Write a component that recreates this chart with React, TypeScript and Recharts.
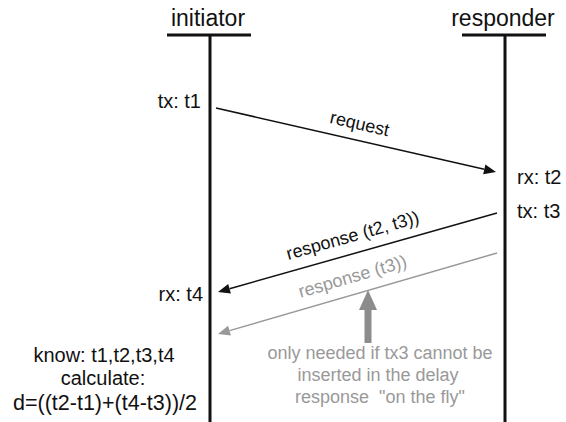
import React from 'react';
import { ComposedChart, XAxis, YAxis, Scatter, ReferenceLine } from 'recharts';

// Diagram coordinate space (x: 0..566, y: 0..422, y grows downward)
const participants = ['initiator', 'responder'];
const lifelineX = [210, 505];
const headerY = [18, 18];
const barY = 35;
const barHalf = 42;
const lifelineEnd = 422;

const messageNames = ['request', 'response (t2, t3))', 'response (t3))'];
const messageFrom = [
  { x: 216, y: 108 },
  { x: 497, y: 213 },
  { x: 497, y: 253 },
];
const messageTo = [
  { x: 496, y: 172 },
  { x: 218, y: 292 },
  { x: 218, y: 334 },
];
const messageColor = ['#111111', '#111111', '#999999'];
const messageLabelOffset = [17, 18, 18];

const stampText = ['tx: t1', 'rx: t2', 'tx: t3', 'rx: t4'];
const stampX = [201, 517, 517, 203];
const stampY = [101, 177, 211, 294];
const stampAnchor = ['end', 'start', 'start', 'end'];

const noteLines = ['know: t1,t2,t3,t4', 'calculate:', 'd=((t2-t1)+(t4-t3))/2'];
const noteX = [104, 103, 105];
const noteY = [355, 378, 402];
const noteSize = [20, 20, 21.5];

const grayLines = ['only needed if tx3 cannot be', 'inserted in the delay', 'response  "on the fly"'];
const grayX = [380, 378, 380];
const grayY = [353, 375, 397];

const pointerFrom = { x: 368, y: 343 };
const pointerTo = { x: 368, y: 290 };

const FONT = 'Liberation Sans, Arial, Helvetica, sans-serif';

const headerData = participants.map((t, i) => ({ x: lifelineX[i] - 2, y: headerY[i], text: t, size: 23, color: '#111', anchor: 'middle' }));
const stampData = stampText.map((t, i) => ({ x: stampX[i], y: stampY[i], text: t, size: 20, color: '#111', anchor: stampAnchor[i] }));
const noteData = noteLines.map((t, i) => ({ x: noteX[i], y: noteY[i], text: t, size: noteSize[i], color: '#111', anchor: 'middle' }));
const grayData = grayLines.map((t, i) => ({ x: grayX[i], y: grayY[i], text: t, size: 18, color: '#999', anchor: 'middle' }));

const TextShape = (p: any) => {
  const d = p.payload || {};
  return (
    <text
      x={p.cx}
      y={p.cy}
      dy="0.35em"
      textAnchor={d.anchor}
      fontSize={d.size}
      fill={d.color}
      fontFamily={FONT}
      style={{ whiteSpace: 'pre' }}
    >
      {d.text}
    </text>
  );
};

const arrowShape = (color: string, label: string, offset: number, width: number, head: number, headW: number) => (p: any) => {
  const { x1, y1, x2, y2 } = p;
  if ([x1, y1, x2, y2].some((v) => v == null || isNaN(v))) return <g />;
  const dx = x2 - x1;
  const dy = y2 - y1;
  const len = Math.sqrt(dx * dx + dy * dy);
  const ux = dx / len;
  const uy = dy / len;
  const bx = x2 - ux * head;
  const by = y2 - uy * head;
  const px = -uy;
  const py = ux;
  const pts = `${x2},${y2} ${bx + px * headW},${by + py * headW} ${bx - px * headW},${by - py * headW}`;
  let ang = (Math.atan2(dy, dx) * 180) / Math.PI;
  if (ang > 90) ang -= 180;
  if (ang < -90) ang += 180;
  const mx = (x1 + x2) / 2;
  const my = (y1 + y2) / 2;
  const ar = (ang * Math.PI) / 180;
  const nx = Math.sin(ar);
  const ny = -Math.cos(ar);
  const lx = mx + nx * offset;
  const ly = my + ny * offset;
  return (
    <g>
      <line x1={x1} y1={y1} x2={bx} y2={by} stroke={color} strokeWidth={width} />
      <polygon points={pts} fill={color} />
      {label ? (
        <text
          x={lx}
          y={ly}
          dy="0.35em"
          textAnchor="middle"
          fontSize={18}
          fill={color}
          fontFamily={FONT}
          transform={`rotate(${ang} ${lx} ${ly})`}
        >
          {label}
        </text>
      ) : null}
    </g>
  );
};

const plainLine = (color: string, width: number) => (p: any) => (
  <line x1={p.x1} y1={p.y1} x2={p.x2} y2={p.y2} stroke={color} strokeWidth={width} strokeLinecap="butt" />
);

export default function App() {
  return (
    <div style={{ position: 'absolute', left: 0, top: 0, width: 566, height: 422, background: '#fff' }}>
      <ComposedChart width={566} height={422} margin={{ top: 0, right: 0, bottom: 0, left: 0 }}>
        <XAxis type="number" dataKey="x" domain={[0, 566]} hide allowDataOverflow />
        <YAxis type="number" dataKey="y" domain={[0, 422]} reversed hide allowDataOverflow />
        {lifelineX.map((x, i) => (
          <ReferenceLine
            key={'life' + i}
            segment={[{ x, y: barY }, { x, y: lifelineEnd }]}
            ifOverflow="visible"
            shape={plainLine('#111', 3)}
          />
        ))}
        {lifelineX.map((x, i) => (
          <ReferenceLine
            key={'bar' + i}
            segment={[{ x: x - barHalf - 1, y: barY }, { x: x + barHalf - 1, y: barY }]}
            ifOverflow="visible"
            shape={plainLine('#111', 3)}
          />
        ))}
        {messageNames.map((name, i) => (
          <ReferenceLine
            key={'msg' + i}
            segment={[messageFrom[i], messageTo[i]]}
            ifOverflow="visible"
            shape={arrowShape(messageColor[i], name, messageLabelOffset[i], 1.5, 12, 5)}
          />
        ))}
        <ReferenceLine
          segment={[pointerFrom, pointerTo]}
          ifOverflow="visible"
          shape={arrowShape('#8c8c8c', '', 0, 7, 20, 9)}
        />
        <Scatter data={headerData} shape={TextShape} isAnimationActive={false} />
        <Scatter data={stampData} shape={TextShape} isAnimationActive={false} />
        <Scatter data={noteData} shape={TextShape} isAnimationActive={false} />
        <Scatter data={grayData} shape={TextShape} isAnimationActive={false} />
      </ComposedChart>
    </div>
  );
}
